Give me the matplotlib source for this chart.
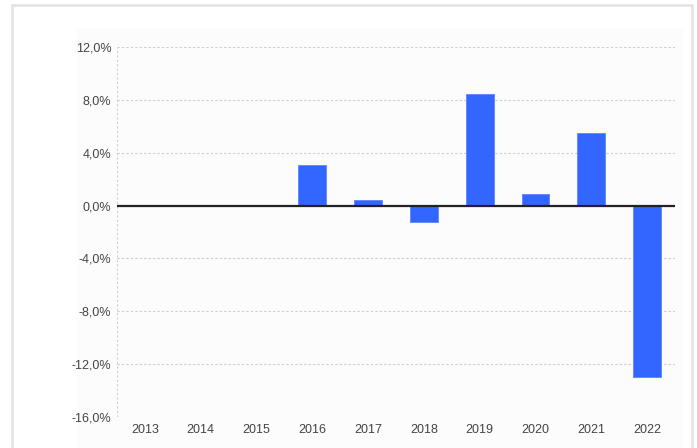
import matplotlib
matplotlib.use("Agg")
import matplotlib.pyplot as plt
from matplotlib.patches import Rectangle
from matplotlib.ticker import FuncFormatter

years = ["2013", "2014", "2015", "2016", "2017", "2018", "2019", "2020", "2021", "2022"]
change = [0.0, 0.0, 0.0, 3.05, 0.43, -1.27, 8.42, 0.86, 5.48, -13.0]
y_ticks = [-16, -12, -8, -4, 0, 4, 8, 12]

plt.rcParams['font.family'] = ['Liberation Sans', 'DejaVu Sans']

fig = plt.figure(figsize=(6.97, 4.48), dpi=100)
fig.patch.set_facecolor('white')

# outer frame and faint panel behind the plot
fig.patches.append(Rectangle((12 / 697, -0.01), 680 / 697, 1 - 5 / 448 + 0.01,
                             transform=fig.transFigure, fill=False,
                             edgecolor='#e2e2e2', linewidth=1.8, zorder=-10))
fig.patches.append(Rectangle((77 / 697, 0), 606 / 697, 1 - 28 / 448,
                             transform=fig.transFigure, facecolor='#fcfcfc',
                             edgecolor='none', zorder=-10))

ax = fig.add_axes([117 / 697, 1 - 417 / 448, 558 / 697, 370 / 448])
ax.set_facecolor('none')
ax.set_zorder(5)

x = range(len(years))
ax.bar(x, change, width=0.5, color='#3366ff', edgecolor='#5c85ff', linewidth=0.6, zorder=3)

ax.set_xlim(-0.5, len(years) - 0.5)
ax.set_ylim(-16, 12)
ax.set_yticks(y_ticks)
ax.yaxis.set_major_formatter(FuncFormatter(lambda v, p: ('%.1f' % v).replace('.', ',') + '%'))
ax.set_xticks(list(x))
ax.set_xticklabels(years)

for v in y_ticks:
    ax.axhline(v, color='#cccccc', linewidth=0.8, linestyle=(0, (2, 2)), zorder=1)
ax.axhline(0, color='#222222', linewidth=1.6, zorder=4)
ax.axvline(-0.5, color='#d0d0d0', linewidth=0.8, linestyle=(0, (2, 2)), zorder=1)

for s in ax.spines.values():
    s.set_visible(False)
ax.tick_params(axis='both', length=0, labelsize=9, colors='#444444')
ax.tick_params(axis='y', pad=4)
ax.tick_params(axis='x', pad=5)

fig.savefig('out.png', dpi=100)
